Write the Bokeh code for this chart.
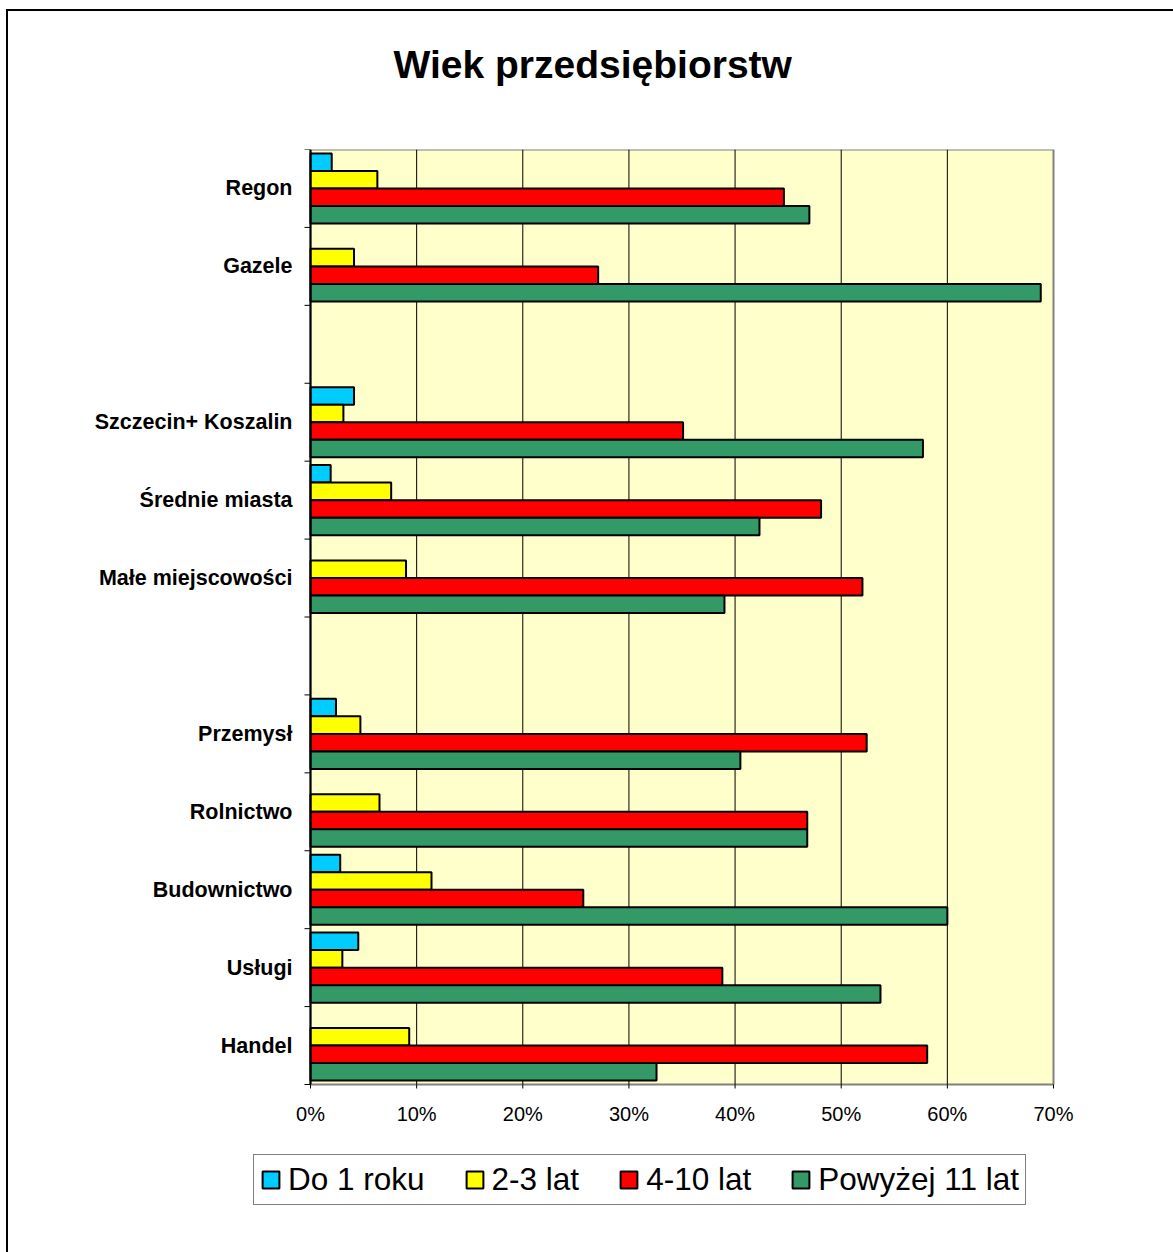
from bokeh.plotting import figure
from bokeh.models import Range1d, Legend, LegendItem, ColumnDataSource, Title, Grid
from bokeh.core.properties import value
from bokeh.embed import file_html
from bokeh.resources import INLINE
import numpy as np

# ---- data ----
categories = ["Regon", "Gazele", "", "Szczecin+ Koszalin", "Średnie miasta",
              "Małe miejscowości", " ", "Przemysł", "Rolnictwo", "Budownictwo",
              "Usługi", "Handel"]
series_names = ["Do 1 roku", "2-3 lat", "4-10 lat", "Powyżej 11 lat"]
do_1_roku = [2.0, 0.0, None, 4.1, 1.9, 0.0, None, 2.4, 0.0, 2.8, 4.5, 0.0]
lat_2_3 = [6.3, 4.1, None, 3.1, 7.6, 9.0, None, 4.7, 6.5, 11.4, 3.0, 9.3]
lat_4_10 = [44.6, 27.1, None, 35.1, 48.1, 52.0, None, 52.4, 46.8, 25.7, 38.8, 58.1]
powyzej_11 = [47.0, 68.8, None, 57.7, 42.3, 39.0, None, 40.5, 46.8, 60.0, 53.7, 32.6]
x_ticks = [0, 10, 20, 30, 40, 50, 60, 70]
x_tick_labels = ["0%", "10%", "20%", "30%", "40%", "50%", "60%", "70%"]
colors = ["#00CCFF", "#FFFF00", "#FF0000", "#339966"]

FONT = "Liberation Sans"
n = len(categories)

# layout (px): plot area 310..1053 x 148..1083; the frame is widened so that
# labels and the legend are drawn inside it
FR_L, FR_T, PA_L, PA_R, PA_B, FR_B = 80, 148, 310, 1053, 1083, 1252
FR_R = PA_R + 30
ppx = (PA_R - PA_L) / (x_ticks[-1] - x_ticks[0])
ppy = (PA_B - FR_T) / n
x_lo = x_ticks[0] - (PA_L - FR_L) / ppx
x_hi = x_ticks[-1] + (FR_R - PA_R) / ppx
y_bottom = n + (FR_B - PA_B) / ppy

p = figure(frame_width=FR_R - FR_L, frame_height=FR_B - FR_T,
           output_backend="svg", toolbar_location=None,
           x_range=Range1d(x_lo, x_hi), y_range=Range1d(y_bottom, 0),
           x_axis_location=None, y_axis_location=None,
           min_border_left=FR_L, min_border_right=1173 - FR_R,
           min_border_top=FR_T, min_border_bottom=0,
           title="Wiek przedsiębiorstw")
p.border_fill_color = None
p.background_fill_color = None
p.outline_line_color = None
p.styles = {"background-color": "white",
            "box-shadow": "inset 6px 9px 0 0 #ffffff, inset 8px 11px 0 0 #000000"}
for g in p.select(type=Grid):
    g.visible = False
p.grid.visible = False

p.title.text_font = FONT
p.title.text_font_size = "39px"
p.title.text_font_style = "bold"
p.title.text_color = "black"
p.title.align = "left"
p.title.offset = 393 - FR_L
p.title.standoff = 80
p.add_layout(Title(text=" ", text_font_size="2px", standoff=20), "above")

# plot area
p.quad(left=x_ticks[0], right=x_ticks[-1], top=0, bottom=n,
       fill_color="#FFFFCC", line_color="#808080", line_width=2)
# vertical grid lines
inner = x_ticks[1:-1]
p.segment(x0=inner, x1=inner, y0=[0] * len(inner), y1=[n] * len(inner),
          line_color="black", line_width=1)

# bars
bar_h = 0.225
offsets = [-1.5 * bar_h, -0.5 * bar_h, 0.5 * bar_h, 1.5 * bar_h]
all_series = [do_1_roku, lat_2_3, lat_4_10, powyzej_11]
idx = np.arange(n)
items = []
for name, vals, col, off in zip(series_names, all_series, colors, offsets):
    keep = [i for i in range(n) if vals[i] is not None and vals[i] > 0]
    src = ColumnDataSource(dict(y=[idx[i] + 0.5 + off for i in keep],
                                right=[vals[i] for i in keep]))
    r = p.hbar(y="y", left=0, right="right", height=bar_h, source=src,
               fill_color=col, line_color="black", line_width=2)
    items.append(LegendItem(label=name, renderers=[r]))

# category axis: line, boundary ticks, labels
p.segment(x0=[x_ticks[0]], x1=[x_ticks[0]], y0=[0], y1=[n],
          line_color="black", line_width=2)
bounds = list(range(n + 1))
p.segment(x0=[x_ticks[0] - 6 / ppx] * len(bounds), x1=[x_ticks[0]] * len(bounds),
          y0=bounds, y1=bounds, line_color="black", line_width=1)
lab_y = [i + 0.5 for i in range(n) if categories[i].strip()]
lab_t = [c for c in categories if c.strip()]
p.text(x=[x_ticks[0]] * len(lab_t), y=lab_y, text=lab_t, x_offset=-18,
       text_align="right", text_baseline="middle", text_font=value(FONT),
       text_font_size="21.5px", text_font_style="bold", text_color="black")

# value axis: ticks and labels
p.segment(x0=x_ticks, x1=x_ticks, y0=[n] * len(x_ticks),
          y1=[n + 4 / ppy] * len(x_ticks), line_color="black", line_width=1)
p.text(x=x_ticks, y=[n] * len(x_ticks), text=x_tick_labels, y_offset=18,
       text_align="center", text_baseline="top", text_font=value(FONT),
       text_font_size="20px", text_color="black")

legend = Legend(items=items, orientation="horizontal",
                location=(253 - FR_L, FR_B - 1204))
legend.label_text_font = FONT
legend.label_text_font_size = "31.5px"
legend.label_text_color = "black"
legend.glyph_width = 21
legend.glyph_height = 21
legend.label_standoff = 7
legend.spacing = 39
legend.padding = 6
legend.margin = 0
legend.border_line_color = "black"
legend.border_line_width = 1
legend.background_fill_color = "white"
legend.background_fill_alpha = 1
p.add_layout(legend, "center")

open("out.html", "w").write(file_html(p, INLINE))
